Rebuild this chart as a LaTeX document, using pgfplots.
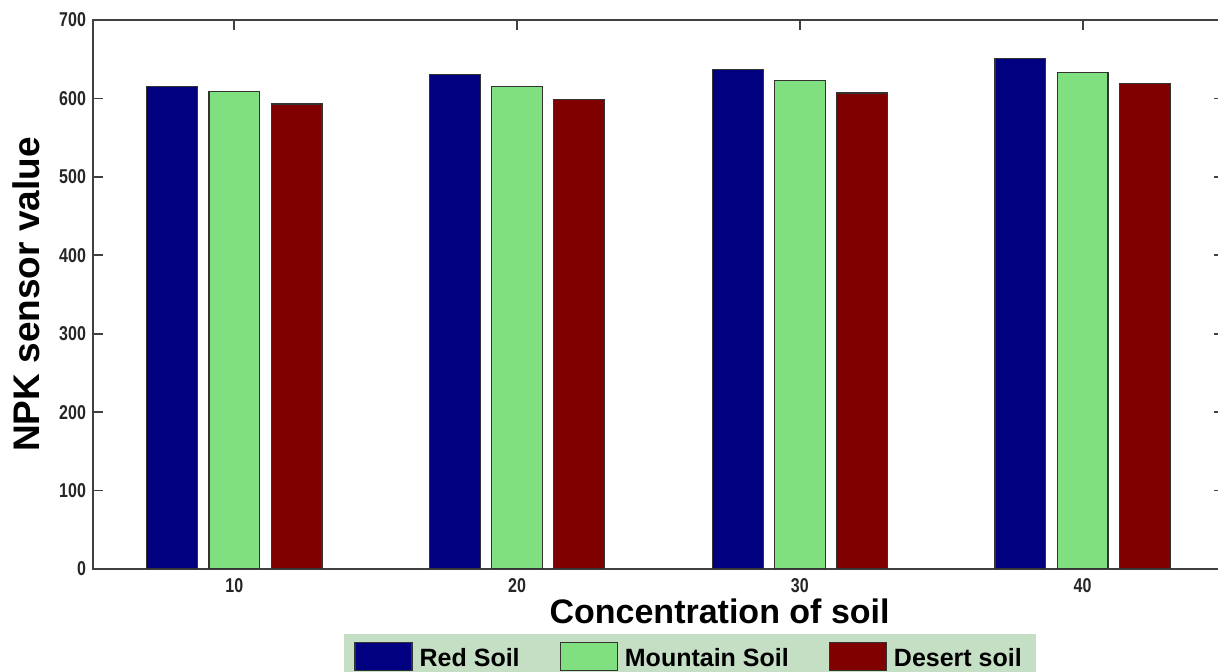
\documentclass[border=0pt]{standalone}
\usepackage{fontspec}
\setmainfont{Liberation Sans}
\newfontfamily\narrowfont[FakeStretch=0.8]{Liberation Sans}
\usepackage{pgfplots}
\usepackage{pgfplotstable}
\pgfplotsset{compat=1.18}

\definecolor{redsoil}{RGB}{0,0,128}
\definecolor{mountsoil}{RGB}{128,224,128}
\definecolor{desertsoil}{RGB}{128,0,0}
\definecolor{legbg}{RGB}{197,223,197}
\definecolor{axgray}{RGB}{64,64,64}

\pgfplotsset{
    soil bar/.style={ybar, bar width=1.8, draw=black!80, line width=0.6pt,
        legend image code/.code={\draw[##1] (0pt,-6pt) rectangle (28.5pt,8pt);}},
}

\pgfplotstableread{
x   red  mountain desert
10  615  609      593
20  630  615      599
30  637  623      607
40  651  633      619
}\soiltable

\begin{document}
\begin{tikzpicture}
\path[use as bounding box] (0,0) rectangle (609pt,336pt);
\clip (0,0) rectangle (609pt,336pt);
\begin{axis}[
    at={(46.5pt,51.5pt)}, anchor=south west,
    scale only axis,
    width=565.5pt, height=274.5pt,
    xmin=5, xmax=45,
    ymin=0, ymax=700,
    xtick={10,20,30,40},
    ytick={0,100,...,700},
    xtick pos=both, ytick pos=both,
    tick align=inside,
    major tick length=5pt,
    axis line style={axgray, line width=0.9pt},
    every tick/.style={axgray, line width=0.9pt},
    /pgf/number format/assume math mode=true,
    tick label style={font=\narrowfont\bfseries\fontsize{10}{12}\selectfont, text=black!85},
    xticklabel style={yshift=-1pt},
    xlabel={\bfseries Concentration of soil},
    ylabel={\bfseries NPK sensor value},
    xlabel style={font=\fontsize{17}{20}\selectfont, at={(axis description cs:0.554,-0.077)}, anchor=center},
    ylabel style={font=\fontsize{18.5}{22}\selectfont, at={(axis description cs:-0.059,0.5)}, anchor=center},
    legend columns=3,
    legend style={
        at={(axis description cs:0.222,-0.118)}, anchor=north west,
        fill=legbg, draw=none,
        font=\bfseries\fontsize{12.5}{15}\selectfont,
        inner xsep=5pt, inner ysep=4pt,
        /tikz/every odd column/.append style={column sep=1.5pt},
        /tikz/every even column/.append style={column sep=18pt},
    },
]
\addplot[soil bar, bar shift=-2.2, fill=redsoil] table[x=x, y=red] {\soiltable};
\addplot[soil bar, bar shift=0, fill=mountsoil] table[x=x, y=mountain] {\soiltable};
\addplot[soil bar, bar shift=2.2, fill=desertsoil] table[x=x, y=desert] {\soiltable};
\legend{Red Soil, Mountain Soil, Desert soil}
\end{axis}
\end{tikzpicture}
\end{document}
